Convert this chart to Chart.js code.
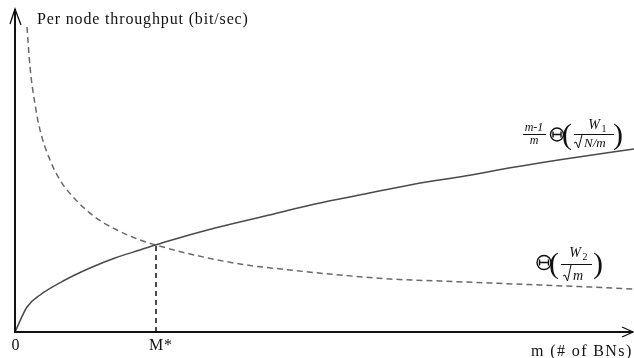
<!DOCTYPE html>
<html>
<head>
<meta charset="utf-8">
<script src="https://cdn.jsdelivr.net/npm/chart.js@4"></script>
<style>
  html, body { margin: 0; padding: 0; background: #fff; }
  #c { display: block; }
</style>
</head>
<body>
<canvas id="c" width="634" height="358"></canvas>
<script>
// values (m in figure units, throughput in figure units)
const mSolid = [0, 12, 25, 50, 75, 100, 125, 150, 200, 250, 300, 350, 400, 450, 500, 550, 619];
const ySolid = [0, 25, 37, 52, 64, 74, 82, 90, 104, 116, 128, 138, 148, 156, 165, 173, 183];

const mDash = [12, 15, 20, 25, 35, 45, 60, 80, 100, 125, 141, 175, 225, 275, 325, 375, 425, 475, 525, 575, 619];
const yDash = [305, 265, 228, 202, 172, 152, 133, 115, 103, 92, 87, 78, 68, 62, 57, 53, 51, 49, 47, 45, 43];

const mStar = 141;
const yStar = 87;

const tickValues = [0, mStar];
const tickLabels = ['0', 'M*'];

const xMax = 619;
const yMax = 324;

const SERIF = '"Liberation Serif", "DejaVu Serif", serif';

const toPts = (xs, ys) => xs.map((x, i) => ({ x, y: ys[i] }));

// small helpers for the two formulas
const theta = (ctx, cx, cy, r) => {
  ctx.save();
  ctx.lineWidth = 1.4;
  ctx.beginPath();
  ctx.arc(cx, cy, r, 0, Math.PI * 2);
  ctx.stroke();
  ctx.beginPath();
  ctx.moveTo(cx - r + 2.5, cy); ctx.lineTo(cx + r - 2.5, cy);
  ctx.moveTo(cx - r + 2.5, cy - 3); ctx.lineTo(cx - r + 2.5, cy + 3);
  ctx.moveTo(cx + r - 2.5, cy - 3); ctx.lineTo(cx + r - 2.5, cy + 3);
  ctx.stroke();
  ctx.restore();
};

const radical = (ctx, x, top, bottom) => {
  ctx.save();
  ctx.lineWidth = 1;
  ctx.beginPath();
  ctx.moveTo(x, bottom - 5);
  ctx.lineTo(x + 2, bottom - 6);
  ctx.lineTo(x + 4.5, bottom);
  ctx.lineTo(x + 8, top);
  ctx.stroke();
  ctx.restore();
};

const decor = {
  id: 'decor',
  afterDraw(chart) {
    const { ctx, chartArea, scales: { x, y } } = chart;
    const x0 = x.getPixelForValue(0);
    const y0 = y.getPixelForValue(0);
    const top = chartArea.top;
    const right = 633;

    ctx.save();
    ctx.strokeStyle = '#111';
    ctx.fillStyle = '#111';

    // axes
    ctx.lineWidth = 2;
    ctx.beginPath();
    ctx.moveTo(x0, y0); ctx.lineTo(x0, top + 1);
    ctx.moveTo(x0 - 1, y0); ctx.lineTo(right, y0);
    ctx.stroke();

    // arrow heads
    ctx.lineWidth = 1.3;
    ctx.beginPath();
    ctx.moveTo(x0 - 5, top + 16); ctx.lineTo(x0, top + 1); ctx.lineTo(x0 + 6, top + 17);
    ctx.moveTo(right - 11, y0 - 5); ctx.lineTo(right, y0); ctx.lineTo(right - 11, y0 + 5);
    ctx.stroke();

    // axis texts (the original font runs wider than Liberation Serif)
    ctx.textBaseline = 'alphabetic';
    ctx.font = '16px ' + SERIF;
    ctx.letterSpacing = '0.85px';
    ctx.textAlign = 'left';
    ctx.fillText('Per node throughput (bit/sec)', 37, 24);

    ctx.letterSpacing = '1px';
    tickValues.forEach((v, i) => {
      ctx.textAlign = 'center';
      ctx.fillText(tickLabels[i], x.getPixelForValue(v) + (i ? 5 : 1), 350);
    });
    ctx.letterSpacing = '1.4px';
    ctx.textAlign = 'left';
    ctx.fillText('m (# of BNs)', 531, 356);
    ctx.letterSpacing = '0px';

    // formula 1: (m-1)/m Θ(W1 / sqrt(N/m))
    ctx.textAlign = 'center';
    ctx.font = 'italic 12px ' + SERIF;
    ctx.fillText('m-1', 534, 131);
    ctx.fillText('m', 534, 144);
    ctx.lineWidth = 1;
    ctx.beginPath(); ctx.moveTo(523, 134.5); ctx.lineTo(546, 134.5); ctx.stroke();
    theta(ctx, 557, 134.5, 6.5);
    ctx.font = '30px ' + SERIF;
    ctx.fillText('(', 567, 144);
    ctx.fillText(')', 618, 144);
    ctx.font = 'italic 14px ' + SERIF;
    ctx.fillText('W', 594, 129);
    ctx.font = '10px ' + SERIF;
    ctx.fillText('1', 604, 132);
    ctx.beginPath(); ctx.moveTo(574, 134.5); ctx.lineTo(614, 134.5); ctx.stroke();
    radical(ctx, 574, 135, 148);
    ctx.font = 'italic 13px ' + SERIF;
    ctx.textAlign = 'left';
    ctx.fillText('N/m', 584, 147);

    // formula 2: Θ(W2 / sqrt(m))
    ctx.textAlign = 'center';
    theta(ctx, 544, 262.5, 7);
    ctx.font = '30px ' + SERIF;
    ctx.fillText('(', 554, 273);
    ctx.fillText(')', 598, 273);
    ctx.font = 'italic 14px ' + SERIF;
    ctx.fillText('W', 575, 257);
    ctx.font = '10px ' + SERIF;
    ctx.fillText('2', 585, 260);
    ctx.beginPath(); ctx.moveTo(561, 264.5); ctx.lineTo(592, 264.5); ctx.stroke();
    radical(ctx, 563, 265, 281);
    ctx.font = 'italic 14px ' + SERIF;
    ctx.textAlign = 'left';
    ctx.fillText('m', 573, 280);

    ctx.restore();
  }
};

new Chart(document.getElementById('c'), {
  type: 'line',
  data: {
    datasets: [
      {
        data: toPts(mSolid, ySolid),
        borderColor: '#4a4a4a',
        borderWidth: 1.5,
        cubicInterpolationMode: 'monotone',
        pointRadius: 0,
        fill: false
      },
      {
        data: toPts(mDash, yDash),
        borderColor: '#6a6a6a',
        borderWidth: 1.5,
        borderDash: [6, 4],
        cubicInterpolationMode: 'monotone',
        pointRadius: 0,
        fill: false
      },
      {
        data: [{ x: mStar, y: 0 }, { x: mStar, y: yStar }],
        borderColor: '#111',
        borderWidth: 1.5,
        borderDash: [5, 4],
        pointRadius: 0,
        fill: false
      }
    ]
  },
  options: {
    responsive: false,
    animation: false,
    devicePixelRatio: 1,
    layout: { padding: { left: 15, right: 0, top: 8, bottom: 26 } },
    plugins: {
      legend: { display: false },
      tooltip: { enabled: false }
    },
    scales: {
      x: { type: 'linear', min: 0, max: xMax, display: false },
      y: { type: 'linear', min: 0, max: yMax, display: false }
    }
  },
  plugins: [decor]
});
</script>
</body>
</html>
